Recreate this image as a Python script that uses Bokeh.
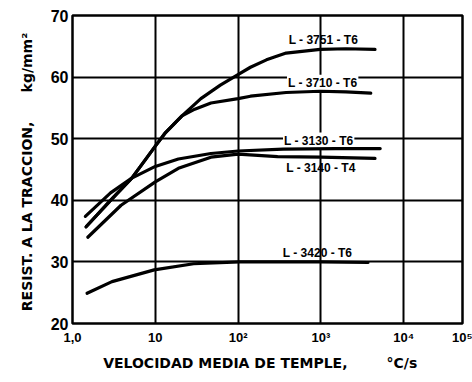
from bokeh.plotting import figure
from bokeh.models import FixedTicker, Label
from bokeh.embed import file_html
from bokeh.resources import INLINE

# --- data (quench rate in °C/s, strength in kg/mm²) ---
x_3751 = [1.46, 2.88, 5.2, 7.6, 10, 13.3, 21, 35.5, 61, 102, 141, 220, 380, 980, 2000, 4500]
y_3751 = [35.7, 40.0, 43.6, 46.6, 48.8, 51.0, 53.7, 56.5, 58.7, 60.5, 61.6, 62.8, 63.9, 64.5, 64.6, 64.5]

x_3710 = [1.46, 2.88, 5.2, 7.6, 10, 13.3, 21, 30, 47, 100, 141, 380, 980, 2000, 4000]
y_3710 = [35.7, 40.0, 43.6, 46.6, 48.8, 51.0, 53.7, 54.8, 55.8, 56.5, 56.9, 57.5, 57.7, 57.6, 57.4]

x_3130 = [1.43, 2.88, 5.2, 10, 19, 47, 100, 350, 1500, 5200]
y_3130 = [37.4, 41.2, 43.6, 45.5, 46.7, 47.6, 48.0, 48.3, 48.4, 48.4]

x_3140 = [1.53, 3.86, 10, 19, 47, 100, 300, 1000, 4500]
y_3140 = [34.0, 39.2, 43.0, 45.2, 47.0, 47.5, 47.1, 47.0, 46.8]

x_3420 = [1.5, 3.0, 9.7, 29, 105, 400, 1000, 3700]
y_3420 = [24.9, 26.8, 28.7, 29.7, 30.0, 30.0, 30.0, 29.9]

curve_names = ["L - 3751 - T6", "L - 3710 - T6", "L - 3130 - T6", "L - 3140 - T4", "L - 3420 - T6"]
label_x = [1070, 1050, 940, 1000, 910]
label_y = [66.0, 59.1, 49.7, 45.2, 31.4]
label_bg = [None, "white", "white", None, None]

x_ticks = [1, 10, 100, 1000, 10000]
x_tick_labels = ["1,0", "10", "10²", "10³", "10⁴"]
x_end = 10 ** 4.71
x_end_label = "10⁵"
y_ticks = [20, 30, 40, 50, 60, 70]

FONT = "Liberation Sans"
TFONT = "DejaVu Sans"

p = figure(x_axis_type="log", x_range=(1, x_end), y_range=(20, 70),
           frame_width=390, frame_height=308,
           min_border_left=72, min_border_right=10, min_border_top=15, min_border_bottom=59,
           output_backend="svg", toolbar_location=None, background_fill_color="white",
           border_fill_color="white")

p.outline_line_color = "black"
p.outline_line_width = 2.5

# axes
ticks_all = x_ticks + [x_end]
p.xaxis.ticker = FixedTicker(ticks=ticks_all, minor_ticks=[])
overrides = {t: l for t, l in zip(x_ticks, x_tick_labels)}
overrides[x_end] = x_end_label
p.xaxis.major_label_overrides = overrides
p.yaxis.ticker = FixedTicker(ticks=y_ticks, minor_ticks=[])

for ax in (p.xaxis[0], p.yaxis[0]):
    ax.axis_line_color = None
    ax.major_tick_in = 0
    ax.major_tick_out = 0
    ax.minor_tick_in = 0
    ax.minor_tick_out = 0
    ax.major_label_text_font = FONT
    ax.major_label_text_font_style = "bold"
    ax.major_label_text_color = "black"
    ax.axis_label_text_font = TFONT
    ax.axis_label_text_font_style = "bold"
    ax.axis_label_text_color = "black"

p.yaxis.major_label_text_font_size = "16px"
p.yaxis.major_label_standoff = 4
p.yaxis.axis_label = "RESIST.  A LA TRACCION,\u00a0\u00a0\u00a0\u00a0\u00a0 kg/mm²"
p.yaxis.axis_label_text_font_size = "14px"
p.yaxis.axis_label_standoff = 13

p.xaxis.major_label_text_font_size = "13px"
p.xaxis.major_label_standoff = 6
p.xaxis.axis_label = "VELOCIDAD  MEDIA  DE  TEMPLE,\u00a0\u00a0\u00a0\u00a0\u00a0\u00a0\u00a0 °C/s"
p.xaxis.axis_label_text_font_size = "14px"
p.xaxis.axis_label_standoff = 7

# grid
p.xgrid.ticker = FixedTicker(ticks=x_ticks)
p.ygrid.ticker = FixedTicker(ticks=y_ticks)
for g in (p.xgrid[0], p.ygrid[0]):
    g.grid_line_color = "black"
    g.grid_line_width = 2
    g.grid_line_alpha = 1

# curve labels (drawn under the curves, over the grid)
for name, lx, ly, bg in zip(curve_names, label_x, label_y, label_bg):
    lab = Label(x=lx, y=ly, text=name, text_align="center", text_baseline="middle",
                text_font=FONT, text_font_style="bold", text_font_size="12px",
                text_color="black", padding=1, level="underlay")
    if bg:
        lab.background_fill_color = bg
    p.add_layout(lab)

# curves
for xs, ys in [(x_3751, y_3751), (x_3710, y_3710), (x_3130, y_3130),
               (x_3140, y_3140), (x_3420, y_3420)]:
    p.line(xs, ys, line_color="black", line_width=3.2, line_cap="round", line_join="round")

open("out.html", "w").write(file_html(p, INLINE))
